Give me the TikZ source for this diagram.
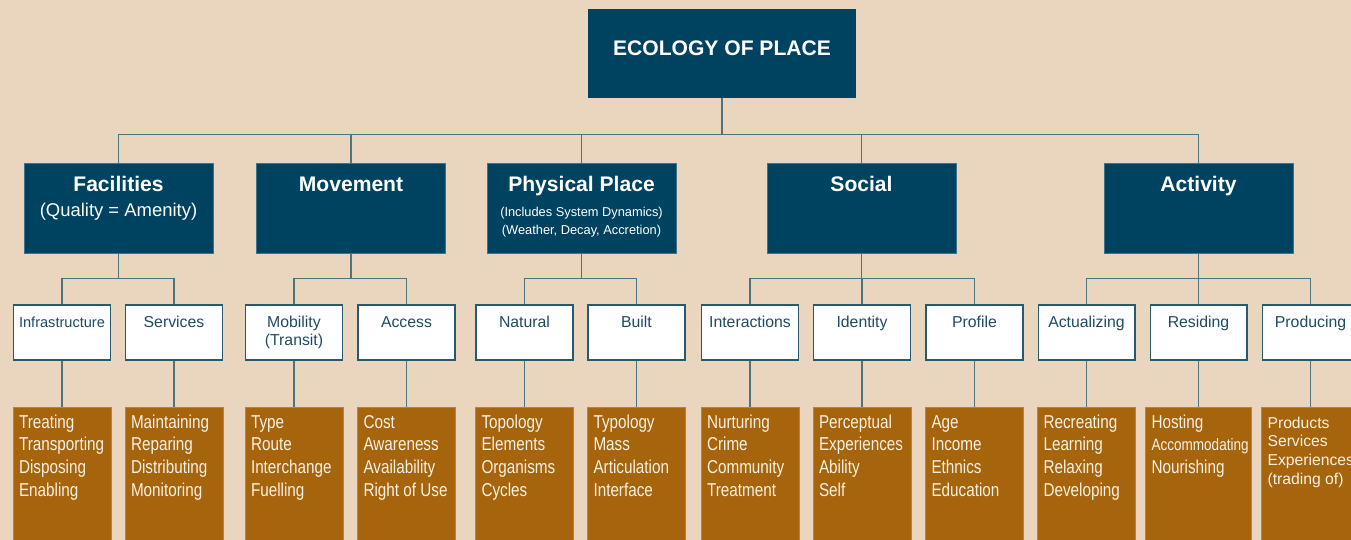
\documentclass[tikz,border=0pt]{standalone}
\usepackage{fontspec}
\setmainfont{Liberation Sans}
\newfontfamily\narrowfont[FakeStretch=0.82]{Liberation Sans}
\usetikzlibrary{positioning}

\definecolor{paper}{RGB}{234,214,190}
\definecolor{ecoblue}{RGB}{0,67,96}
\definecolor{itembrown}{RGB}{166,100,13}
\definecolor{itemtext}{RGB}{250,241,228}
\definecolor{aspecttext}{RGB}{30,75,100}
\definecolor{aspectline}{RGB}{40,90,110}
\definecolor{linkcolor}{RGB}{75,115,128}

\begin{document}
\begin{tikzpicture}[
    x=0.02cm, y=-0.02cm,
    topalign/.style n args={3}{inner sep=0pt,
        execute at begin node={\begin{minipage}[c][#2][t]{#1}\centering\rule{0pt}{#3}},
        execute at end node={\end{minipage}}},
    leftalign/.style n args={3}{inner sep=0pt,
        execute at begin node={\begin{minipage}[c][#2][t]{#1}\raggedright\leftskip=0.12cm\rule{0pt}{#3}},
        execute at end node={\end{minipage}}},
    rootbox/.style={rectangle, fill=ecoblue, text=white, font=\bfseries\fontsize{12}{14}\selectfont, topalign={5.36cm}{1.78cm}{0.934cm}},
    themebox/.style={rectangle, fill=ecoblue, draw=ecoblue!75!white, line width=0.4pt, text=white, font=\fontsize{10.5}{14.2}\selectfont, topalign={3.78cm}{1.8cm}{0.574cm}},
    aspectbox/.style={rectangle, fill=white, draw=aspectline, line width=0.6pt, text=aspecttext, font=\fontsize{9}{10.4}\selectfont, topalign={1.94cm}{1.1cm}{0.44cm}},
    itembox/.style={rectangle, fill=itembrown, draw=itembrown!80!white, line width=0.4pt, text=itemtext, font=\narrowfont\fontsize{10.6}{12.9}\selectfont, leftalign={#1}{3.06cm}{0.42cm}},
    itembox/.default=1.96cm,
    link/.style={draw=linkcolor, line width=0.75pt},
]

\path[use as bounding box, fill=paper] (0,0) rectangle (1351,540);
\clip (0,0) rectangle (1351,540);

% Root
\node (root) at (722,53.5) [rootbox] {ECOLOGY OF PLACE};

% Themes
\node (fac) at (118.5,208) [themebox] {{\bfseries\fontsize{12}{14}\selectfont Facilities}\\(Quality = Amenity)};
\node (mov) at (351,208) [themebox] {{\bfseries\fontsize{12}{14}\selectfont Movement}};
\node (phy) at (581.5,208) [themebox] {{\bfseries\fontsize{12}{14}\selectfont Physical Place}\\[3.6pt]\fontsize{7.3}{10.4}\selectfont (Includes System Dynamics)\\(Weather, Decay, Accretion)\par};
\node (soc) at (861.5,208) [themebox] {{\bfseries\fontsize{12}{14}\selectfont Social}};
\node (act) at (1198.5,208) [themebox] {{\bfseries\fontsize{12}{14}\selectfont Activity}};

% Aspects
\node (infra) at (62,332.5) [aspectbox] {{\fontsize{8.3}{10.4}\selectfont Infrastructure}};
\node (serv) at (174,332.5) [aspectbox] {Services};
\node (mobil) at (294,332.5) [aspectbox] {Mobility\\(Transit)};
\node (access) at (406.5,332.5) [aspectbox] {Access};
\node (natural) at (524.5,332.5) [aspectbox] {Natural};
\node (built) at (636.5,332.5) [aspectbox] {Built};
\node (interact) at (750,332.5) [aspectbox] {Interactions};
\node (ident) at (862,332.5) [aspectbox] {Identity};
\node (profile) at (974.5,332.5) [aspectbox] {Profile};
\node (actual) at (1086.5,332.5) [aspectbox] {Actualizing};
\node (resid) at (1198.5,332.5) [aspectbox] {Residing};
\node (produce) at (1310.5,332.5) [aspectbox] {Producing};

% Items
\node (infraitems) at (62,483.5) [itembox] {Treating\\Transporting\\Disposing\\Enabling};
\node (servitems) at (174,483.5) [itembox] {Maintaining\\Reparing\\Distributing\\Monitoring};
\node (mobilitems) at (294,483.5) [itembox] {Type\\Route\\Interchange\\Fuelling};
\node (accessitems) at (406.5,483.5) [itembox] {Cost\\Awareness\\Availability\\Right of Use};
\node (naturalitems) at (524.5,483.5) [itembox] {Topology\\Elements\\Organisms\\Cycles};
\node (builtitems) at (636.5,483.5) [itembox] {Typology\\Mass\\Articulation\\Interface};
\node (interactitems) at (750,483.5) [itembox] {Nurturing\\Crime\\Community\\Treatment};
\node (identitems) at (862,483.5) [itembox] {Perceptual\\Experiences\\Ability\\Self};
\node (profileitems) at (974.5,483.5) [itembox] {Age\\Income\\Ethnics\\Education};
\node (actualitems) at (1086.5,483.5) [itembox] {Recreating\\Learning\\Relaxing\\Developing};
\node (residitems) at (1198.5,483.5) [itembox=2.12cm] {Hosting\\{\fontsize{9.4}{12.9}\selectfont Accommodating}\\Nourishing};
\node (produceitems) at (1310.5,483.5) [itembox, font=\fontsize{8.95}{10.8}\selectfont] {Products\\Services\\Experiences\\(trading of)\par};

% Root to themes
\draw[link] (root.south) -- ++(0,36) -| (fac.north);
\draw[link] (root.south) -- ++(0,36) -| (mov.north);
\draw[link] (root.south) -- ++(0,36) -| (phy.north);
\draw[link] (root.south) -- ++(0,36) -| (soc.north);
\draw[link] (root.south) -- ++(0,36) -| (act.north);

% Themes to aspects
\draw[link] (fac.south) -- ++(0,25) -| (infra.north);
\draw[link] (fac.south) -- ++(0,25) -| (serv.north);
\draw[link] (mov.south) -- ++(0,25) -| (mobil.north);
\draw[link] (mov.south) -- ++(0,25) -| (access.north);
\draw[link] (phy.south) -- ++(0,25) -| (natural.north);
\draw[link] (phy.south) -- ++(0,25) -| (built.north);
\draw[link] (soc.south) -- ++(0,25) -| (interact.north);
\draw[link] (soc.south) -- ++(0,25) -| (ident.north);
\draw[link] (soc.south) -- ++(0,25) -| (profile.north);
\draw[link] (act.south) -- ++(0,25) -| (actual.north);
\draw[link] (act.south) -- ++(0,25) -| (resid.north);
\draw[link] (act.south) -- ++(0,25) -| (produce.north);

% Aspects to items
\draw[link] (infra.south) -- (infraitems.north);
\draw[link] (serv.south) -- (servitems.north);
\draw[link] (mobil.south) -- (mobilitems.north);
\draw[link] (access.south) -- (accessitems.north);
\draw[link] (natural.south) -- (naturalitems.north);
\draw[link] (built.south) -- (builtitems.north);
\draw[link] (interact.south) -- (interactitems.north);
\draw[link] (ident.south) -- (identitems.north);
\draw[link] (profile.south) -- (profileitems.north);
\draw[link] (actual.south) -- (actualitems.north);
\draw[link] (resid.south) -- (residitems.north);
\draw[link] (produce.south) -- (produceitems.north);

\end{tikzpicture}
\end{document}
